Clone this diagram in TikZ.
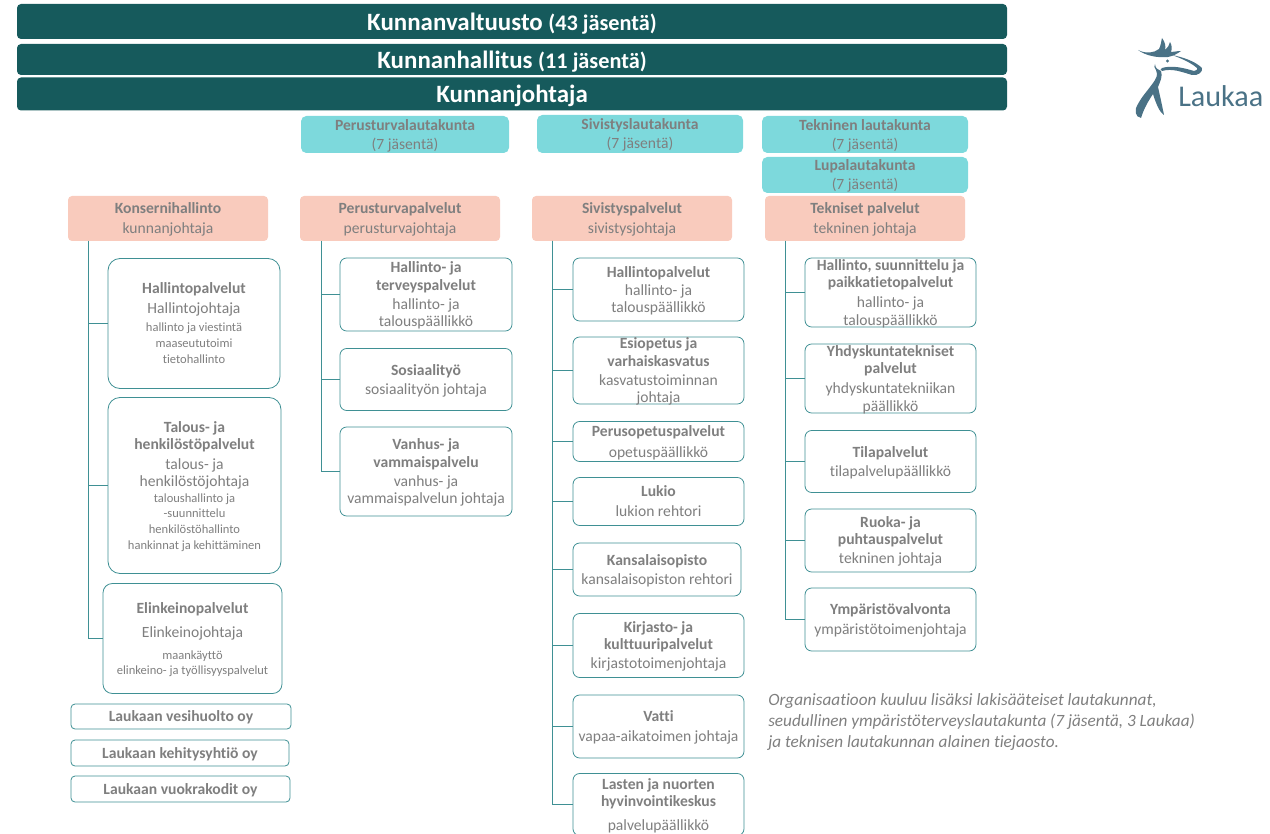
\documentclass[tikz,border=0pt]{standalone}
\usepackage{fontspec}
\setmainfont[Ligatures=NoCommon]{Carlito}
\usetikzlibrary{positioning}
\definecolor{bardark}{HTML}{165A5C}
\definecolor{boardcyan}{HTML}{7DD9DC}
\definecolor{headpink}{HTML}{F9CBBD}
\definecolor{lineteal}{HTML}{3F9094}
\definecolor{textgrey}{HTML}{7F7F7F}
\definecolor{logoblue}{HTML}{4A7286}
\newcommand{\sm}{\fontsize{9.4}{12}\selectfont}
\newcommand{\toprow}[1]{\rule{0pt}{11.2pt}\textbf{#1}}
\tikzset{
	wh/.style 2 args={minimum width=#1*.75pt,minimum height=#2*.75pt},
	evenlines/.style={inner sep=0pt,inner ysep=-8pt,execute at end node={\rule[-3.3pt]{0pt}{3.3pt}}},
	barbox/.style={fill=bardark,rounded corners=3pt,text=white,inner sep=0pt,wh={990}{#1},font=\fontsize{18.7}{20}\selectfont\bfseries,execute at begin node={\rule{0pt}{18pt}},execute at end node={\rule[-5pt]{0pt}{5pt}}},
	boardbox/.style={evenlines,fill=boardcyan,rounded corners=4pt,text=textgrey,align=center,font=\fontsize{11.7}{14.2}\selectfont},
	headbox/.style={evenlines,fill=headpink,rounded corners=3pt,text=textgrey,align=center,wh={200}{45},font=\fontsize{11.7}{15}\selectfont},
	unitbox/.style={evenlines,draw=lineteal,line width=.6pt,fill=white,rounded corners=5pt,text=textgrey,align=center,font=\fontsize{11.7}{13}\selectfont},
	branch/.style={draw=lineteal,line width=.75pt}
}
\begin{document}
\begin{tikzpicture}[x=.75pt,y=-.75pt]
	\useasboundingbox (0,0) rectangle (1270,834);
	% top bars
	\node [barbox=35] (valtuusto) at (512,21.5) {Kunnanvaltuusto \fontsize{16.7}{20}\selectfont(43 jäsentä)};
	\node [barbox=31] (hallitus) at (512,59.5) {Kunnanhallitus \fontsize{16.7}{20}\selectfont(11 jäsentä)};
	\node [barbox=33] (johtaja) at (512,94) {Kunnanjohtaja};
	% boards
	\node [boardbox,wh={208}{37}] (perusltk) at (405,134.5) {\toprow{Perusturvalautakunta}\\(7 jäsentä)};
	\node [boardbox,wh={206}{38}] (sivistysltk) at (640,134) {\toprow{Sivistyslautakunta}\\(7 jäsentä)};
	\node [boardbox,wh={206}{37}] (teknltk) at (865,134.5) {\toprow{Tekninen lautakunta}\\(7 jäsentä)};
	\node [boardbox,wh={206}{36}] (lupaltk) at (865,175) {\toprow{Lupalautakunta}\\(7 jäsentä)};
	% sector heads
	\node [headbox] (konserni) at (168,218.5) {\toprow{Konsernihallinto}\\kunnanjohtaja};
	\node [headbox] (perus) at (400,218.5) {\toprow{Perusturvapalvelut}\\perusturvajohtaja};
	\node [headbox] (sivistys) at (632,218.5) {\toprow{Sivistyspalvelut}\\sivistysjohtaja};
	\node [headbox] (tekn) at (865,218.5) {\toprow{Tekniset palvelut}\\tekninen johtaja};
	% konsernihallinto
	\node [unitbox,rounded corners=9pt,wh={172}{130}] (k1) at (194,323.5) {\toprow{Hallintopalvelut}\\[2pt]Hallintojohtaja\\[.5pt]\sm hallinto ja viestintä\\[-1pt]\sm maaseututoimi\\[-1pt]\sm tietohallinto};
	\node [unitbox,rounded corners=9pt,wh={173}{176}] (k2) at (194.5,485.5) {\toprow{Talous- ja}\\\textbf{henkilöstöpalvelut}\\[2pt]talous- ja\\henkilöstöjohtaja\\[-1.5pt]\sm taloushallinto ja\\[-1.4pt]\sm -suunnittelu\\[-1pt]\sm henkilöstöhallinto\\[-1pt]\sm hankinnat ja kehittäminen};
	\node [unitbox,rounded corners=7pt,wh={179}{110}] (k3) at (192.5,638.5) {\toprow{Elinkeinopalvelut}\\[5pt]Elinkeinojohtaja\\[3.5pt]\sm maankäyttö\\[-1.6pt]\sm elinkeino- ja työllisyyspalvelut};
	\node [unitbox,rounded corners=3pt,wh={220}{25}] (k4) at (181,716.5) {\toprow{Laukaan vesihuolto oy}};
	\node [unitbox,rounded corners=3pt,wh={218}{26}] (k5) at (180,753) {\toprow{Laukaan kehitysyhtiö oy}};
	\node [unitbox,rounded corners=3pt,wh={219}{26}] (k6) at (180.5,789) {\toprow{Laukaan vuokrakodit oy}};
	% perusturva
	\node [unitbox,wh={172}{73}] (p1) at (426,294.5) {\toprow{Hallinto- ja}\\\textbf{terveyspalvelut}\\[1.2pt]hallinto- ja\\talouspäällikkö};
	\node [unitbox,wh={172}{62}] (p2) at (426,379.5) {\toprow{Sosiaalityö}\\[1.3pt]sosiaalityön johtaja};
	\node [unitbox,wh={172}{89}] (p3) at (426,471.5) {\toprow{Vanhus- ja}\\\textbf{vammaispalvelu}\\[1.5pt]vanhus- ja\\vammaispalvelun johtaja};
	% sivistys
	\node [unitbox,wh={171}{63}] (s1) at (658.5,289.5) {\toprow{Hallintopalvelut}\\[.5pt]hallinto- ja\\talouspäällikkö};
	\node [unitbox,wh={171}{67}] (s2) at (658.5,370.5) {\toprow{Esiopetus ja}\\\textbf{varhaiskasvatus}\\[1.3pt]kasvatustoiminnan\\johtaja};
	\node [unitbox,wh={171}{40}] (s3) at (658.5,441.5) {\toprow{Perusopetuspalvelut}\\[2.8pt]opetuspäällikkö};
	\node [unitbox,wh={171}{48}] (s4) at (658.5,501.5) {\toprow{Lukio}\\[2pt]lukion rehtori};
	\node [unitbox,wh={168}{53}] (s5) at (657,569.5) {\toprow{Kansalaisopisto}\\[1.3pt]kansalaisopiston rehtori};
	\node [unitbox,wh={171}{64}] (s6) at (658.5,645.5) {\toprow{Kirjasto- ja}\\\textbf{kulttuuripalvelut}\\[1.2pt]kirjastotoimenjohtaja};
	\node [unitbox,wh={171}{63}] (s7) at (658.5,726.5) {\toprow{Vatti}\\[2pt]vapaa-aikatoimen johtaja};
	\node [unitbox,wh={171}{62}] (s8) at (658.5,804.5) {\toprow{Lasten ja nuorten}\\\textbf{hyvinvointikeskus}\\[5pt]palvelupäällikkö};
	% tekniset
	\node [unitbox,wh={171}{69}] (t1) at (890.5,292.5) {\toprow{Hallinto, suunnittelu ja}\\\textbf{paikkatietopalvelut}\\[2pt]hallinto- ja\\talouspäällikkö};
	\node [unitbox,wh={171}{69}] (t2) at (890.5,378.5) {\toprow{Yhdyskuntatekniset}\\\textbf{palvelut}\\[2pt]yhdyskuntatekniikan\\päällikkö};
	\node [unitbox,wh={171}{62}] (t3) at (890.5,461.5) {\toprow{Tilapalvelut}\\[1.3pt]tilapalvelupäällikkö};
	\node [unitbox,wh={171}{63}] (t4) at (890.5,540.5) {\toprow{Ruoka- ja}\\\textbf{puhtauspalvelut}\\[1.2pt]tekninen johtaja};
	\node [unitbox,wh={171}{63}] (t5) at (890.5,619.5) {\toprow{Ympäristövalvonta}\\[2pt]ympäristötoimenjohtaja};
	% connectors
	\coordinate (k0) at (88.5,241);
	\coordinate (p0) at (321.5,241);
	\coordinate (s0) at (552.5,241);
	\coordinate (t0) at (785.5,241);
	\foreach \i in {1,2,3} \draw [branch] (k0) |- (k\i.west);
	\foreach \i in {1,2,3} \draw [branch] (p0) |- (p\i.west);
	\foreach \i in {1,...,8} \draw [branch] (s0) |- (s\i.west);
	\foreach \i in {1,...,5} \draw [branch] (t0) |- (t\i.west);
	% note
	\node [anchor=north west,text=textgrey,align=left,inner sep=0pt,font=\fontsize{12.9}{16}\selectfont\itshape] (note) at (768,693) {Organisaatioon kuuluu lisäksi lakisääteiset lautakunnat,\\seudullinen ympäristöterveyslautakunta (7 jäsentä, 3 Laukaa)\\ja teknisen lautakunnan alainen tiejaosto.};
	% logo
	\fill [logoblue] (1138,50) .. controls (1146,54) and (1154,53) .. (1159,49) .. controls (1161,45) and (1161,42) .. (1162,38) .. controls (1165,42) and (1166,46) .. (1165,50) .. controls (1168,48) and (1169,45) .. (1170,42) .. controls (1172,45) and (1172,49) .. (1171,52) .. controls (1174,52) and (1177,51) .. (1181,51) .. controls (1177,54) and (1173,56) .. (1168,57) .. controls (1158,58) and (1146,56) .. (1138,50) -- cycle;
	\fill [logoblue] (1172,55) .. controls (1182,57) and (1195,61) .. (1202,68) .. controls (1203,72) and (1198,76) .. (1192,75) .. controls (1182,72) and (1172,68) .. (1162,71) .. controls (1160,70) and (1160,69) .. (1162,68) .. controls (1172,65) and (1184,68) .. (1194,71) .. controls (1197,70) and (1198,69) .. (1197,68) .. controls (1190,62) and (1180,58) .. (1172,55) -- cycle;
	\fill [logoblue] (1155,64) .. controls (1155,68) and (1158,70) .. (1161,71) .. controls (1163,76) and (1160,82) .. (1158,87) .. controls (1160,96) and (1162,105) .. (1164,115) .. controls (1160,113) and (1156,104) .. (1153,94) .. controls (1149,100) and (1144,108) .. (1141,118) .. controls (1135,117) and (1134,110) .. (1138,104) .. controls (1142,96) and (1150,88) .. (1155,80) .. controls (1158,75) and (1157,72) .. (1156,70) .. controls (1154,68) and (1154,66) .. (1155,64) -- cycle;
	\fill [logoblue] (1167.5,61) circle (1.6);
	\node [anchor=base west,text=logoblue,inner sep=0pt,font=\fontsize{22.6}{24}\selectfont] (logotext) at (1178,107) {Laukaa};
\end{tikzpicture}
\end{document}
